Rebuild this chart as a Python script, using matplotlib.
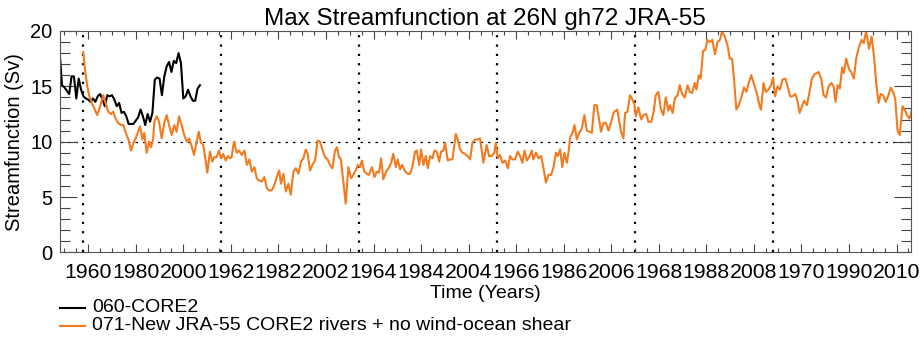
import numpy as np
import matplotlib
matplotlib.use("Agg")
import matplotlib.pyplot as plt
from matplotlib.lines import Line2D
from matplotlib.ticker import MultipleLocator, FixedLocator, FixedFormatter

plt.rcParams['font.family'] = ['Liberation Sans', 'DejaVu Sans']

# forcing cycle layout (JRA-55 1958-2015 repeated)
cycle_start = 1958
cycle_len = 58
n_cycles = 6

# 060-CORE2 (model years)
core2_years = list(range(1948, 2008))
core2_sv = [18.0, 15.1, 14.9, 14.6, 14.3, 15.9, 15.9, 13.9, 15.7, 14.7,
            14.1, 13.9, 13.8, 13.6, 13.9, 13.6, 14.1, 14.3, 13.8, 13.2,
            14.2, 14.1, 14.2, 13.8, 13.2, 13.5, 12.6, 12.7, 12.3, 11.6,
            11.6, 11.6, 11.9, 12.2, 12.9, 12.3, 11.5, 12.5, 11.8, 12.6,
            15.6, 15.8, 15.7, 14.2, 15.9, 16.8, 17.2, 16.3, 17.3, 17.1,
            18.0, 17.1, 13.9, 14.1, 14.7, 14.1, 13.7, 13.7, 14.8, 15.1]

# 071-New JRA-55 (model time)
jra_t = [1957.9, 1958.6, 1959.6, 1960.5, 1961.5, 1962.6, 1963.8, 1965.0, 1966.3, 1967.3,
         1968.4, 1969.6, 1970.5, 1971.5, 1972.6, 1973.8, 1974.8, 1975.8, 1976.9, 1978.0,
         1979.0, 1980.0, 1980.8, 1981.8, 1982.8, 1983.6, 1984.6, 1985.6, 1986.4, 1987.3,
         1987.8, 1988.8, 1989.8, 1990.9, 1992.0, 1993.0, 1994.0, 1995.1, 1996.2, 1997.2,
         1998.2, 1999.3, 2000.4, 2001.4, 2002.4, 2003.5, 2004.5, 2005.6, 2006.5, 2007.4,
         2008.4, 2009.1, 2010.1, 2011.2, 2012.2, 2013.0, 2014.0, 2015.0, 2015.9, 2016.8,
         2017.8, 2018.7, 2019.6, 2020.3, 2021.3, 2022.5, 2023.4, 2024.6, 2025.7, 2026.7,
         2027.8, 2028.8, 2029.9, 2030.9, 2031.8, 2033.0, 2034.1, 2035.1, 2036.0, 2037.2,
         2038.3, 2039.3, 2040.3, 2041.1, 2042.1, 2043.1, 2044.2, 2045.2, 2046.3, 2047.3,
         2048.4, 2049.5, 2050.5, 2051.5, 2052.3, 2053.3, 2054.3, 2055.4, 2056.5, 2057.5,
         2058.6, 2059.6, 2060.7, 2061.7, 2062.7, 2063.8, 2064.6, 2065.5, 2066.3, 2067.3,
         2068.3, 2069.4, 2070.6, 2071.5, 2072.5, 2073.4, 2074.3, 2075.1, 2076.1, 2077.2,
         2078.1, 2079.3, 2080.4, 2081.4, 2082.3, 2083.2, 2084.1, 2085.3, 2086.3, 2087.4,
         2088.3, 2089.4, 2090.2, 2091.2, 2092.1, 2093.3, 2094.4, 2095.4, 2096.3, 2097.5,
         2098.2, 2099.2, 2100.0, 2101.0, 2102.0, 2102.8, 2103.8, 2104.8, 2105.6, 2106.6,
         2107.6, 2108.4, 2109.4, 2110.1, 2111.2, 2112.2, 2113.2, 2114.6, 2115.4, 2116.4,
         2117.4, 2118.5, 2119.6, 2120.6, 2121.6, 2122.7, 2123.8, 2124.8, 2126.2, 2127.6,
         2128.6, 2129.7, 2130.8, 2131.4, 2132.3, 2133.2, 2134.2, 2135.3, 2136.5, 2137.4,
         2138.4, 2139.5, 2140.7, 2141.6, 2142.6, 2143.5, 2144.5, 2145.4, 2146.6, 2147.2,
         2148.3, 2149.4, 2150.5, 2151.5, 2152.5, 2153.6, 2154.7, 2155.7, 2156.7, 2157.5,
         2158.5, 2159.4, 2160.3, 2161.3, 2162.0, 2162.7, 2163.7, 2164.5, 2165.5, 2166.5,
         2167.6, 2168.7, 2169.7, 2170.7, 2171.8, 2172.9, 2173.9, 2174.9, 2175.7, 2176.7,
         2177.7, 2178.8, 2180.0, 2180.9, 2181.9, 2182.5, 2183.4, 2184.1, 2185.1, 2185.8,
         2186.8, 2187.9, 2188.9, 2189.7, 2190.3, 2191.4, 2192.6, 2193.5, 2194.7, 2195.6,
         2196.8, 2197.8, 2198.7, 2199.8, 2200.8, 2201.9, 2202.9, 2204.0, 2204.7, 2205.8,
         2206.7, 2207.9, 2208.8, 2209.8, 2210.9, 2212.1, 2213.0, 2214.0, 2215.1, 2215.8,
         2216.8, 2217.6, 2218.6, 2219.6, 2220.4, 2221.4, 2222.5, 2223.6, 2224.7, 2225.7,
         2226.6, 2227.7, 2228.9, 2229.8, 2230.8, 2231.6, 2232.6, 2233.6, 2234.7, 2235.8,
         2236.8, 2237.8, 2238.9, 2240.0, 2241.4, 2242.4, 2243.0, 2244.0, 2245.0, 2246.1,
         2247.2, 2248.0, 2248.9, 2249.9, 2250.9, 2252.0, 2253.2, 2254.3, 2255.2, 2256.2,
         2257.4, 2258.3, 2259.2, 2260.2, 2261.1, 2262.3, 2263.2, 2264.4, 2265.5, 2266.5,
         2267.2, 2268.3, 2269.3, 2270.3, 2271.4, 2272.6, 2273.5, 2274.3, 2275.2, 2276.1,
         2277.1, 2277.8, 2278.8, 2279.9, 2280.9, 2282.0, 2283.0, 2284.1, 2285.3, 2286.2,
         2287.2, 2288.4, 2289.5, 2290.5, 2291.5, 2292.4, 2293.3, 2294.3, 2295.4, 2296.6,
         2297.5, 2298.5, 2299.4, 2300.4, 2301.3, 2302.5, 2303.6, 2304.6, 2305.5, 2306.4]
jra_sv = [18.1, 16.6, 15.0, 14.1, 13.5, 13.0, 12.4, 13.2, 14.2, 13.5,
          12.7, 12.5, 12.7, 12.1, 11.7, 11.5, 11.5, 10.8, 10.2, 9.2,
          9.9, 10.3, 10.8, 11.4, 10.2, 10.8, 9.0, 10.0, 9.5, 10.2,
          11.8, 12.3, 11.8, 10.3, 11.7, 12.4, 11.5, 10.6, 11.5, 10.9,
          12.3, 11.5, 10.6, 10.0, 10.3, 9.6, 8.8, 10.0, 10.9, 9.9,
          9.7, 8.7, 7.2, 9.1, 8.2, 8.6, 8.6, 9.2, 8.5, 8.9,
          8.3, 8.7, 8.5, 8.6, 10.0, 9.0, 9.2, 8.8, 9.2, 7.9,
          8.4, 7.3, 7.7, 6.7, 6.5, 6.4, 6.8, 5.8, 5.6, 5.6,
          6.1, 6.8, 7.4, 6.2, 7.1, 5.5, 6.2, 5.2, 7.3, 7.6,
          7.1, 8.2, 8.5, 9.3, 8.9, 7.4, 7.9, 8.3, 10.1, 10.0,
          9.2, 8.6, 8.4, 7.9, 7.6, 9.2, 9.5, 8.6, 8.4, 6.4,
          4.4, 7.7, 6.7, 7.0, 7.4, 7.9, 7.7, 8.3, 7.3, 7.1,
          7.0, 7.7, 6.8, 7.3, 7.2, 8.5, 6.6, 7.3, 7.6, 8.1,
          8.9, 7.7, 8.4, 7.5, 7.9, 7.3, 7.1, 7.1, 7.7, 9.1,
          9.2, 7.9, 9.3, 7.9, 8.7, 7.6, 8.7, 8.5, 9.2, 9.1,
          8.2, 9.1, 9.2, 9.9, 8.3, 8.4, 8.4, 10.7, 10.2, 9.3,
          9.0, 8.9, 8.7, 8.4, 9.9, 10.2, 10.2, 10.3, 8.1, 9.7,
          8.7, 8.7, 9.0, 9.9, 8.5, 8.8, 8.1, 8.3, 7.6, 8.7,
          8.4, 8.4, 9.1, 8.7, 8.1, 9.2, 8.3, 8.6, 9.2, 8.4,
          9.0, 8.5, 8.7, 7.6, 6.3, 7.0, 7.0, 7.7, 9.0, 8.7,
          9.3, 7.7, 9.0, 8.1, 9.0, 10.4, 10.8, 11.5, 10.2, 10.8,
          11.2, 12.4, 11.0, 10.9, 10.8, 13.3, 13.3, 12.0, 10.9, 11.7,
          11.7, 11.0, 11.8, 12.6, 12.8, 12.9, 11.8, 10.9, 10.3, 12.6,
          12.7, 14.2, 13.8, 13.4, 12.3, 13.1, 12.0, 12.4, 12.5, 11.8,
          11.8, 12.7, 14.2, 14.5, 13.0, 12.4, 14.0, 12.8, 13.3, 12.6,
          13.9, 14.2, 15.1, 14.3, 14.0, 15.1, 14.5, 14.4, 15.3, 14.7,
          16.0, 15.7, 18.2, 18.3, 19.2, 19.0, 19.2, 17.9, 19.0, 19.2,
          20.0, 19.5, 18.7, 17.5, 17.5, 15.7, 12.9, 13.3, 14.0, 14.9,
          14.5, 15.3, 16.0, 15.2, 14.2, 13.2, 12.9, 15.3, 14.5, 14.7,
          15.1, 15.8, 14.1, 15.0, 14.7, 15.6, 15.7, 14.9, 14.1, 14.1,
          14.3, 13.7, 12.6, 13.2, 13.7, 13.3, 14.3, 15.7, 16.1, 16.2,
          16.3, 15.7, 14.2, 14.0, 15.0, 15.3, 15.0, 13.6, 15.1, 14.8,
          16.7, 16.2, 17.5, 16.6, 16.3, 15.7, 17.5, 18.5, 19.2, 18.9,
          20.0, 18.4, 19.5, 17.7, 15.1, 13.5, 14.3, 14.2, 13.6, 14.2,
          14.9, 14.5, 13.9, 11.0, 10.6, 13.2, 12.8, 12.3, 12.1, 12.8]

labels = ['060-CORE2', '071-New JRA-55 CORE2 rivers + no wind-ocean shear']
colors = ['black', '#f27a1f']

fig = plt.figure(figsize=(9.21, 3.39), dpi=100)
ax = fig.add_axes([0.0648, 0.2555, 0.9242, 0.6531])

ax.plot(core2_years, core2_sv, color=colors[0], lw=1.5)
ax.plot(jra_t, jra_sv, color=colors[1], lw=1.5)

# cycle boundaries and 10 Sv reference
for k in range(n_cycles):
    ax.axvline(cycle_start + k * cycle_len, color='black', lw=1.6,
               linestyle=(0, (1, 3.2)), zorder=1)
ax.axhline(10, color='black', lw=0.9, linestyle=(0, (2, 4)), zorder=1)

ax.set_xlim(1948, cycle_start + n_cycles * cycle_len)
ax.set_ylim(0, 20)

xt = np.arange(1960, 2301, 20)
ax.xaxis.set_major_locator(FixedLocator(xt))
ax.xaxis.set_major_formatter(FixedFormatter(
    [str(cycle_start + (t - cycle_start) % cycle_len) for t in xt]))
ax.xaxis.set_minor_locator(MultipleLocator(5))
ax.yaxis.set_major_locator(MultipleLocator(5))
ax.yaxis.set_minor_locator(MultipleLocator(1))

ax.tick_params(axis='both', which='both', direction='in', top=True, right=True,
               colors='#444444', labelcolor='black', width=0.8)
ax.tick_params(axis='x', which='major', length=6, pad=8, labelsize=15.3)
ax.tick_params(axis='x', which='minor', length=3)
ax.tick_params(axis='y', which='major', length=12, pad=5, labelsize=14.5)
ax.tick_params(axis='y', which='minor', length=7)
for s in ax.spines.values():
    s.set_color('#555555')
    s.set_linewidth(0.8)

ax.set_title('Max Streamfunction at 26N gh72 JRA-55', fontsize=17.5, pad=4)
ax.set_xlabel('Time (Years)', fontsize=14, labelpad=2)
ax.set_ylabel('Streamfunction (Sv)', fontsize=14.5, labelpad=5)

# legend below the plot, drawn in figure coordinates
for i, (lab, c) in enumerate(zip(labels, colors)):
    y = 0.0915 - i * 0.0531
    fig.add_artist(Line2D([0.0651, 0.0923], [y, y], color=c, lw=1.5,
                          transform=fig.transFigure))
    fig.text(0.0999, y, lab, fontsize=14, va='center', ha='left')

fig.savefig('out.png', dpi=100)
